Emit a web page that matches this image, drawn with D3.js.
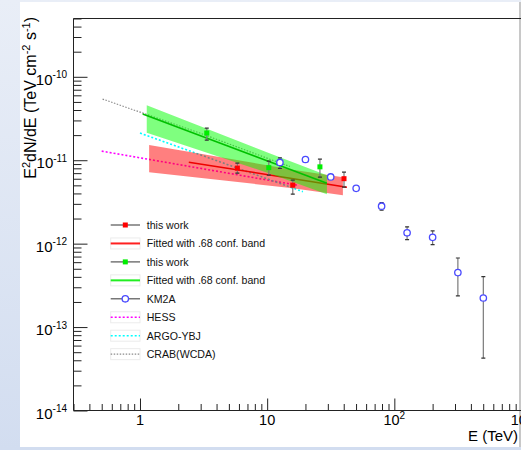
<!DOCTYPE html>
<html><head><meta charset="utf-8">
<script src="https://cdn.jsdelivr.net/npm/d3@7"></script>
<style>body{margin:0;overflow:hidden;background:#fff;} svg{display:block;font-family:"Liberation Sans",Arial,Helvetica,sans-serif;}</style>
</head><body><svg id="c" width="521" height="450"></svg>
<script>
// ---------------- data ----------------
const km2aE  = [12.6, 20.0, 31.6, 50.1, 79.4, 126, 200, 316, 501];
const km2aF  = [9.4e-12, 1.02e-11, 6.3e-12, 4.6e-12, 2.81e-12, 1.35e-12, 1.19e-12, 4.5e-13, 2.23e-13];
const km2aLo = [7.97e-12, 9.8e-12, 6.1e-12, 4.45e-12, 2.52e-12, 1.12e-12, 9.75e-13, 2.36e-13, 4.25e-14];
const km2aHi = [1.07e-11, 1.06e-11, 6.5e-12, 4.75e-12, 3.11e-12, 1.59e-12, 1.42e-12, 6.73e-13, 4.03e-13];

const redE  = [5.83, 15.9, 40.2];
const redF  = [8.04e-12, 5.03e-12, 6.01e-12];
const redLo = [7.0e-12, 3.92e-12, 4.75e-12];
const redHi = [9.23e-12, 5.77e-12, 7.19e-12];

const greenE  = [3.35, 10.3, 26.0];
const greenF  = [2.12e-11, 8.15e-12, 8.33e-12];
const greenLo = [1.74e-11, 6.62e-12, 6.27e-12];
const greenHi = [2.43e-11, 9.75e-12, 1.03e-11];

const redFitE = [2.42, 42.4];
const redFitF = [9.48e-12, 4.75e-12];
const greenFitE = [1.05, 29.5];
const greenFitF = [3.58e-11, 5.31e-12];

const redBandE  = [1.18, 15.9, 39.4];
const redBandLo = [7.19e-12, 4.62e-12, 3.81e-12];
const redBandHi = [1.52e-11, 7.71e-12, 6.27e-12];
const greenBandE  = [1.13, 10.3, 29.5];
const greenBandLo = [2.13e-11, 7.0e-12, 3.92e-12];
const greenBandHi = [4.55e-11, 1.22e-11, 6.62e-12];

const hessE = [0.5, 17.1];
const hessF = [1.285e-11, 5.03e-12];
const argoE = [1.0, 19.1];
const argoF = [2.115e-11, 4.2e-12];
const crabE = [0.508, 2.95, 9.95, 15.1];
const crabF = [5.41e-11, 2.12e-11, 1.06e-11, 8.4e-12];

const xMajorTicks = [1, 10, 100, 1000];
const xTickLabels = [["1",""], ["10",""], ["10","2"], ["10","3"]];
const yMajorTicks = [1e-14, 1e-13, 1e-12, 1e-11, 1e-10];
const yTickLabels = [["10","-14"], ["10","-13"], ["10","-12"], ["10","-11"], ["10","-10"]];

const legendLabels = ["this work", "Fitted with .68 conf. band", "this work", "Fitted with .68 conf. band",
                      "KM2A", "HESS", "ARGO-YBJ", "CRAB(WCDA)"];

// ---------------- drawing ----------------
const svg = d3.select("#c");
const defs = svg.append("defs");
const grad = defs.append("linearGradient").attr("id","bg").attr("x1",0).attr("y1",0).attr("x2",0).attr("y2",1);
grad.append("stop").attr("offset","0%").attr("stop-color","#e9eef7");
grad.append("stop").attr("offset","100%").attr("stop-color","#d2ddf0");
svg.append("rect").attr("width",521).attr("height",450).attr("fill","url(#bg)");
svg.append("rect").attr("x",20).attr("y",2).attr("width",501).attr("height",445).attr("fill","#fff");
svg.append("rect").attr("x",519).attr("y",2).attr("width",2).attr("height",445).attr("fill","#c8c8c8");

const X0 = 73.5, X1 = 521.5, Y0 = 410.5, Y1 = 18.5;
const x = d3.scaleLog().domain([0.3, 1000]).range([X0, X1]);
const y = d3.scaleLog().domain([1e-14, 5e-10]).range([Y0, Y1]);

defs.append("clipPath").attr("id","clip").append("rect")
  .attr("x",X0).attr("y",Y1).attr("width",X1-X0).attr("height",Y0-Y1);
const plot = svg.append("g").attr("clip-path","url(#clip)");

const zip3 = (E, lo, hi) => E.map((e,i)=>({E:e, lo:lo[i], hi:hi[i]}));
const zip2 = (E, F) => E.map((e,i)=>({E:e, F:F[i]}));
const area = d3.area().x(d=>x(d.E)).y0(d=>y(d.lo)).y1(d=>y(d.hi));
const line = d3.line().x(d=>x(d.E)).y(d=>y(d.F));

// reference curves
plot.append("path").attr("d", line(zip2(crabE, crabF))).attr("fill","none")
  .attr("stroke","#8a8a8a").attr("stroke-width",1.2).attr("stroke-dasharray","1.5,1.5");
plot.append("path").attr("d", line(zip2(hessE, hessF))).attr("fill","none")
  .attr("stroke","#ff00ff").attr("stroke-width",1.6).attr("stroke-dasharray","2,2");
plot.append("path").attr("d", line(zip2(argoE, argoF))).attr("fill","none")
  .attr("stroke","#00ffff").attr("stroke-width",1.6).attr("stroke-dasharray","2,2");

// red band + fit
plot.append("path").attr("d", area(zip3(redBandE, redBandLo, redBandHi))).attr("fill","rgba(255,0,0,0.5)");
plot.append("path").attr("d", line(zip2(redFitE, redFitF))).attr("fill","none")
  .attr("stroke","#ee0000").attr("stroke-width",1.6);
// green band + fit
plot.append("path").attr("d", area(zip3(greenBandE, greenBandLo, greenBandHi))).attr("fill","rgba(0,255,0,0.5)");
plot.append("path").attr("d", line(zip2(greenFitE, greenFitF))).attr("fill","none")
  .attr("stroke","#00c000").attr("stroke-width",1.6);

function errBars(E, lo, hi) {
  const g = plot.append("g");
  E.forEach((e,i)=>{
    const cx = x(e);
    g.append("line").attr("x1",cx).attr("x2",cx).attr("y1",y(lo[i])).attr("y2",y(hi[i]))
      .attr("stroke","#7a7a7a").attr("stroke-width",1.2);
    [lo[i],hi[i]].forEach(v=>{
      g.append("line").attr("x1",cx-2).attr("x2",cx+2).attr("y1",y(v)).attr("y2",y(v))
        .attr("stroke","#333").attr("stroke-width",1.2);
    });
  });
}
errBars(km2aE, km2aLo, km2aHi);
errBars(redE, redLo, redHi);
errBars(greenE, greenLo, greenHi);

plot.selectAll(".km").data(zip2(km2aE, km2aF)).join("circle")
  .attr("cx",d=>x(d.E)).attr("cy",d=>y(d.F)).attr("r",3.2)
  .attr("fill","#fff").attr("stroke","#4a4aff").attr("stroke-width",1.3);
plot.selectAll(".rd").data(zip2(redE, redF)).join("rect")
  .attr("x",d=>x(d.E)-2.5).attr("y",d=>y(d.F)-2.5).attr("width",5).attr("height",5)
  .attr("fill","#ff0000");
plot.selectAll(".gr").data(zip2(greenE, greenF)).join("rect")
  .attr("x",d=>x(d.E)-2.5).attr("y",d=>y(d.F)-2.5).attr("width",5).attr("height",5)
  .attr("fill","#00ee00");

// ---------------- axes ----------------
const axisCol = "#222";
const yMinor = [];
for (let e=-14; e<=-10; e++) for (let m=2; m<=9; m++) { const v = m*Math.pow(10,e); if (v <= 5.01e-10) yMinor.push(v); }
const xMinor = [];
for (let e=-1; e<=2; e++) for (let m=2; m<=9; m++) { const v = m*Math.pow(10,e); if (v >= 0.3 && v < 1000) xMinor.push(v); }

const gy = svg.append("g").attr("transform",`translate(${X0},0)`);
gy.call(d3.axisLeft(y).tickValues(yMajorTicks).tickSize(-14).tickSizeOuter(0).tickFormat(()=>""));
const gyMinor = svg.append("g").attr("transform",`translate(${X0},0)`);
gyMinor.call(d3.axisLeft(y).tickValues(yMinor).tickSize(-8).tickSizeOuter(0).tickFormat(()=>""));
const gx = svg.append("g").attr("transform",`translate(0,${Y0})`);
gx.call(d3.axisBottom(x).tickValues(xMajorTicks).tickSize(-12).tickSizeOuter(0).tickFormat(()=>""));
const gxMinor = svg.append("g").attr("transform",`translate(0,${Y0})`);
gxMinor.call(d3.axisBottom(x).tickValues(xMinor).tickSize(-6.5).tickSizeOuter(0).tickFormat(()=>""));
[gy, gyMinor, gx, gxMinor].forEach(g=>{
  g.selectAll(".domain").remove();
  g.selectAll(".tick line").attr("stroke",axisCol);
});
// frame
svg.append("line").attr("x1",X0).attr("x2",X0).attr("y1",Y1).attr("y2",Y0).attr("stroke",axisCol);
svg.append("line").attr("x1",X0).attr("x2",X1).attr("y1",Y0).attr("y2",Y0).attr("stroke",axisCol);
svg.append("line").attr("x1",X0).attr("x2",X1).attr("y1",Y1).attr("y2",Y1).attr("stroke",axisCol);

// tick labels
yMajorTicks.forEach((v,i)=>{
  const t = svg.append("text").attr("x",67).attr("y",y(v)+8).attr("text-anchor","end")
    .attr("font-size",15).attr("fill","#000");
  t.append("tspan").text(yTickLabels[i][0]);
  t.append("tspan").attr("dy",-6.5).attr("font-size",10).text(yTickLabels[i][1]);
});
xMajorTicks.forEach((v,i)=>{
  const t = svg.append("text").attr("x",x(v)).attr("y",424.5).attr("text-anchor","middle")
    .attr("font-size",14.5).attr("fill","#000");
  t.append("tspan").text(xTickLabels[i][0]);
  if (xTickLabels[i][1]) t.append("tspan").attr("dy",-6).attr("font-size",10).text(xTickLabels[i][1]);
});

// axis titles
svg.append("text").attr("x",518).attr("y",441).attr("text-anchor","end").attr("font-size",15)
  .attr("fill","#000").text("E (TeV)");
const yt = svg.append("text").attr("transform","translate(36,17) rotate(-90)")
  .attr("text-anchor","end").attr("font-size",16).attr("fill","#000");
yt.append("tspan").text("E");
yt.append("tspan").attr("dy",-6.5).attr("font-size",11).text("2");
yt.append("tspan").attr("dy",6.5).text("dN/dE (TeV cm");
yt.append("tspan").attr("dy",-6.5).attr("font-size",11).text("-2");
yt.append("tspan").attr("dy",6.5).text(" s");
yt.append("tspan").attr("dy",-6.5).attr("font-size",11).text("-1");
yt.append("tspan").attr("dy",6.5).text(")");

// ---------------- legend ----------------
const lg = svg.append("g");
const lx0 = 110.7, lx1 = 140, lxm = 125.3, ltx = 146.7, ly0 = 225, ldy = 18.45;
const legendStyle = [
  {t:"pt", c:"#ff0000"}, {t:"ln", c:"#ff2020"}, {t:"pt", c:"#00ee00"}, {t:"ln", c:"#22ee22"},
  {t:"open", c:"#4a4aff"}, {t:"dot", c:"#ff00ff"}, {t:"dot", c:"#00ffff"}, {t:"dot", c:"#8a8a8a"}
];
legendLabels.forEach((lab,i)=>{
  const yy = ly0 + i*ldy, s = legendStyle[i];
  if (s.t === "pt" || s.t === "open") {
    lg.append("line").attr("x1",lx0).attr("x2",lx1).attr("y1",yy).attr("y2",yy)
      .attr("stroke","#555").attr("stroke-width",1.2);
    if (s.t === "pt") lg.append("rect").attr("x",lxm-2.5).attr("y",yy-2.5).attr("width",5).attr("height",5).attr("fill",s.c);
    else lg.append("circle").attr("cx",lxm).attr("cy",yy).attr("r",3.2).attr("fill","#fff")
      .attr("stroke",s.c).attr("stroke-width",1.3);
  } else {
    lg.append("rect").attr("x",lx0).attr("y",yy-5.5).attr("width",lx1-lx0).attr("height",11)
      .attr("fill","none").attr("stroke","#ececec").attr("stroke-width",1);
    const l = lg.append("line").attr("x1",lx0).attr("x2",lx1).attr("y1",yy).attr("y2",yy)
      .attr("stroke",s.c);
    if (s.t === "ln") l.attr("stroke-width",2);
    else l.attr("stroke-width",s.c === "#8a8a8a" ? 1.2 : 1.6).attr("stroke-dasharray", s.c === "#8a8a8a" ? "1.5,1.5" : "2,2");
  }
  lg.append("text").attr("x",ltx).attr("y",yy+4).attr("font-size",10.6).attr("fill","#111").text(lab);
});
</script></body></html>
